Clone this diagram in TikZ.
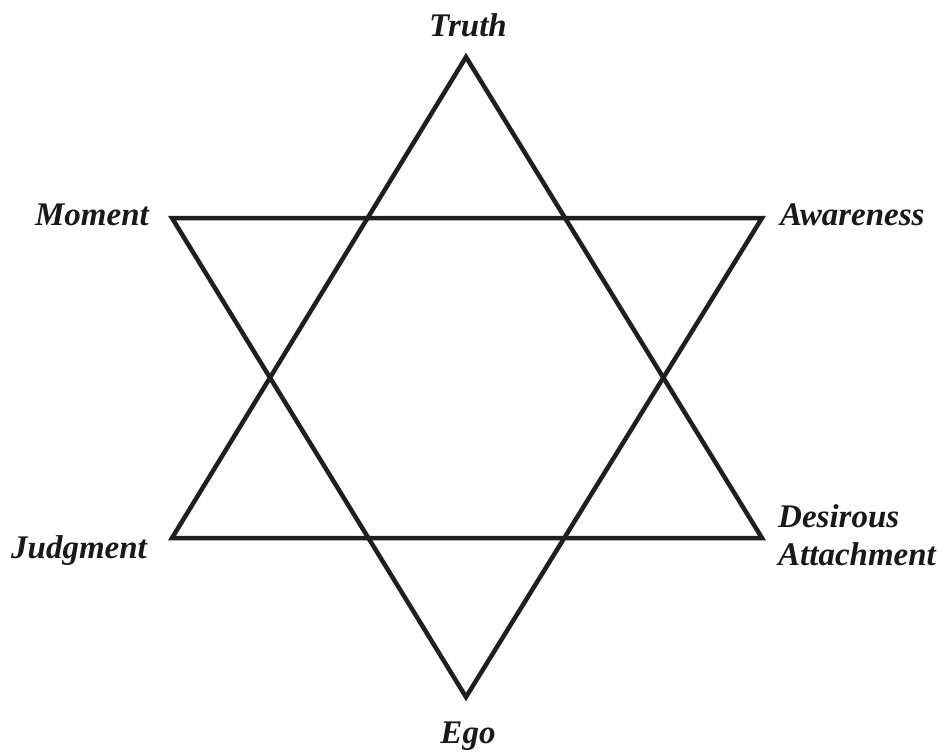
\documentclass[tikz,border=0pt]{standalone}
\usepackage{fontspec}
\setmainfont{Liberation Serif}
\begin{document}
\begin{tikzpicture}[x=1pt,y=-1pt,
  edge/.style={line width=4.5pt,line join=miter,black!88},
  lab/.style={font=\fontsize{33}{38}\selectfont\bfseries\itshape,text=black!90,inner sep=0pt,align=left}]
\useasboundingbox (0,0) rectangle (948,753);
\coordinate (T) at (466,57);
\coordinate (J) at (172,538);
\coordinate (D) at (762,538);
\coordinate (M) at (172,218);
\coordinate (A) at (762,218);
\coordinate (E) at (466,697);
\draw[edge] (T) -- (J) -- (D) -- cycle;
\draw[edge] (M) -- (A) -- (E) -- cycle;
\node[lab,anchor=base] (tl) at (468,36) {Truth};
\node[lab,anchor=base east] (ml) at (149,225) {Moment};
\node[lab,anchor=base west] (al) at (780,225) {Awareness};
\node[lab,anchor=base west] (jl) at (11,558) {Judgment};
\node[lab,anchor=base west] (dl) at (778,527) {Desirous};
\node[lab,anchor=base west] (dl2) at (778,565) {Attachment};
\node[lab,anchor=base] (el) at (468,743) {Ego};
\end{tikzpicture}
\end{document}
